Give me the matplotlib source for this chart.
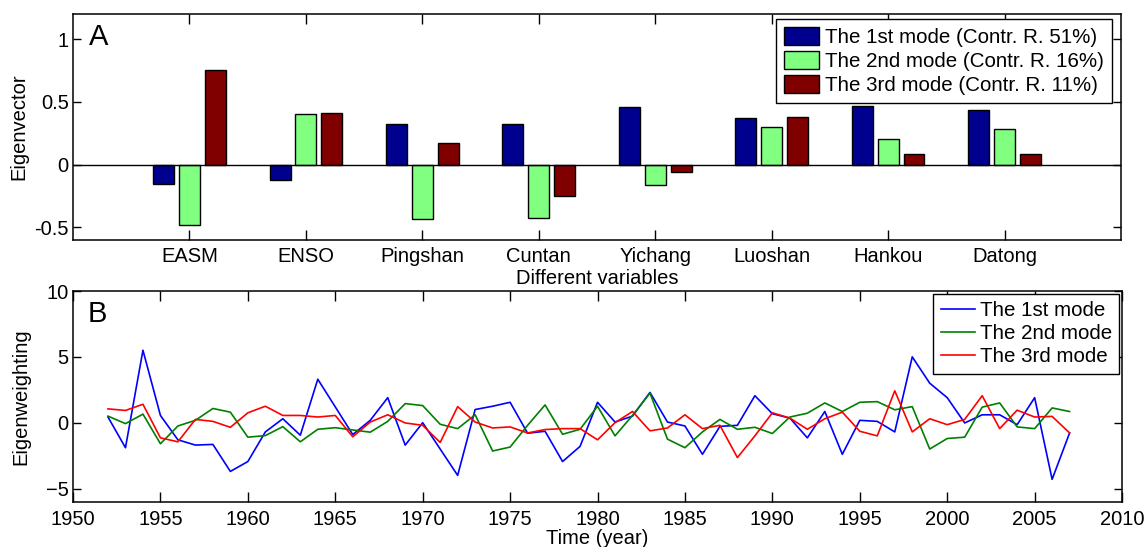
import numpy as np
import matplotlib
matplotlib.use('Agg')
import matplotlib.pyplot as plt

# panel A: eigenvectors of the three modes
variables = ['EASM', 'ENSO', 'Pingshan', 'Cuntan', 'Yichang', 'Luoshan', 'Hankou', 'Datong']
vec_mode1 = [-0.154, -0.125, 0.324, 0.324, 0.457, 0.372, 0.468, 0.433]
vec_mode2 = [-0.484, 0.40, -0.433, -0.428, -0.165, 0.30, 0.202, 0.287]
vec_mode3 = [0.755, 0.41, 0.17, -0.253, -0.058, 0.383, 0.088, 0.088]
bar_labels = ['The 1st mode (Contr. R. 51%)',
              'The 2nd mode (Contr. R. 16%)',
              'The 3rd mode (Contr. R. 11%)']

# panel B: eigenweightings per year
years = list(range(1952, 2008))
weight_mode1 = [0.43, -1.9, 5.5, 0.55, -1.3, -1.7, -1.65, -3.7, -2.95, -0.7,
                0.3, -0.95, 3.3, 1.2, -0.9, 0.18, 1.9, -1.7, 0.0, -2.0,
                -4.0, 1.0, 1.25, 1.55, -0.8, -0.65, -2.95, -1.8, 1.55, 0.05,
                0.5, 2.3, 0.05, -0.25, -2.4, -0.28, -0.2, 2.05, 0.68, 0.35,
                -1.15, 0.85, -2.4, 0.18, 0.1, -0.7, 5.0, 3.0, 1.9, -0.02,
                0.6, 0.6, -0.15, 1.9, -4.3, -0.78]
weight_mode2 = [0.5, -0.07, 0.65, -1.6, -0.25, 0.18, 1.08, 0.8, -1.1, -0.98,
                -0.3, -1.45, -0.5, -0.38, -0.55, -0.72, 0.1, 1.45, 1.3, -0.12,
                -0.45, 0.6, -2.15, -1.85, -0.2, 1.35, -0.88, -0.5, 1.25, -1.0,
                0.55, 2.25, -1.25, -1.9, -0.7, 0.25, -0.5, -0.35, -0.82, 0.43,
                0.72, 1.5, 0.85, 1.55, 1.6, 0.98, 1.22, -2.0, -1.2, -1.1,
                1.18, 1.5, -0.32, -0.45, 1.12, 0.85]
weight_mode3 = [1.05, 0.93, 1.4, -1.15, -1.45, 0.25, 0.1, -0.35, 0.75, 1.25,
                0.55, 0.55, 0.43, 0.55, -1.07, 0.05, 0.6, -0.02, -0.2, -1.5,
                1.22, 0.05, -0.4, -0.32, -0.78, -0.52, -0.45, -0.45, -1.3, 0.0,
                0.85, -0.62, -0.4, 0.6, -0.45, -0.2, -2.65, -1.0, 0.75, 0.35,
                -0.5, 0.3, 0.8, -0.65, -1.0, 2.42, -0.7, 0.3, -0.15, 0.25,
                2.05, -0.45, 0.95, 0.43, 0.48, -0.78]
line_labels = ['The 1st mode', 'The 2nd mode', 'The 3rd mode']

plt.rcParams['font.family'] = ['Liberation Sans', 'DejaVu Sans']
plt.rcParams['font.size'] = 14.5
plt.rcParams['axes.linewidth'] = 1.1

fig = plt.figure(figsize=(11.48, 5.47), dpi=100)
ax_a = fig.add_axes([0.0636, 0.5612, 0.9129, 0.4132])
ax_b = fig.add_axes([0.0636, 0.0828, 0.9138, 0.3852])

# ---- panel A ----
bar_colors = [(0, 0, 0.5625), (0.5, 1, 0.5), (0.5, 0, 0)]
x = np.arange(1, len(variables) + 1)
offsets = [-0.222, 0.0, 0.222]
for vals, off, col, lab in zip([vec_mode1, vec_mode2, vec_mode3], offsets, bar_colors, bar_labels):
    ax_a.bar(x + off, vals, width=0.18, color=col, edgecolor='black', linewidth=1.0, label=lab, zorder=2)
ax_a.axhline(0, color='black', linewidth=1.0, zorder=3)
ax_a.set_xlim(0, 9)
ax_a.set_ylim(-0.6, 1.2)
ax_a.set_xticks(x)
ax_a.set_xticklabels(variables)
ax_a.set_yticks([-0.5, 0, 0.5, 1])
ax_a.set_yticklabels(['-0.5', '0', '0.5', '1'])
ax_a.tick_params(axis='x', direction='in', length=7.5, width=1.0, top=True, pad=5)
ax_a.tick_params(axis='y', direction='in', length=5.8, width=1.0, right=True, pad=3)
ax_a.set_xlabel('Different variables')
ax_a.xaxis.set_label_coords(0.5, -0.128)
ax_a.set_ylabel('Eigenvector')
ax_a.yaxis.set_label_coords(-0.043, 0.5)
ax_a.text(0.0153, 0.9, 'A', transform=ax_a.transAxes, fontsize=21, ha='left', va='center')
leg_a = ax_a.legend(loc='upper right', bbox_to_anchor=(0.9914, 0.978), borderaxespad=0,
                    fancybox=False, framealpha=1, edgecolor='black', fontsize=14.8,
                    handlelength=1.7, handleheight=0.95, handletextpad=0.27,
                    labelspacing=0.19, borderpad=0.4)
leg_a.get_frame().set_linewidth(1.0)

# ---- panel B ----
line_colors = ['#0000ff', '#008000', '#ff0000']
for vals, col, lab in zip([weight_mode1, weight_mode2, weight_mode3], line_colors, line_labels):
    ax_b.plot(years, vals, color=col, linewidth=1.2, label=lab)
ax_b.set_xlim(1950, 2010)
ax_b.set_ylim(-6, 10)
ax_b.set_xticks(range(1950, 2011, 5))
ax_b.set_yticks([-5, 0, 5, 10])
ax_b.tick_params(axis='x', direction='in', length=7.5, width=1.0, top=True, pad=6)
ax_b.tick_params(axis='y', direction='in', length=5.8, width=1.0, right=True, pad=3)
ax_b.set_xlabel('Time (year)')
ax_b.xaxis.set_label_coords(0.5, -0.13)
ax_b.set_ylabel('Eigenweighting')
ax_b.yaxis.set_label_coords(-0.041, 0.5)
ax_b.text(0.0143, 0.89, 'B', transform=ax_b.transAxes, fontsize=21, ha='left', va='center')
leg_b = ax_b.legend(loc='upper right', bbox_to_anchor=(0.997, 0.986), borderaxespad=0,
                    fancybox=False, framealpha=1, edgecolor='black', fontsize=14.8,
                    handlelength=1.7, handletextpad=0.2, labelspacing=0.2, borderpad=0.35)
leg_b.get_frame().set_linewidth(1.0)

fig.savefig('out.png', dpi=100)
